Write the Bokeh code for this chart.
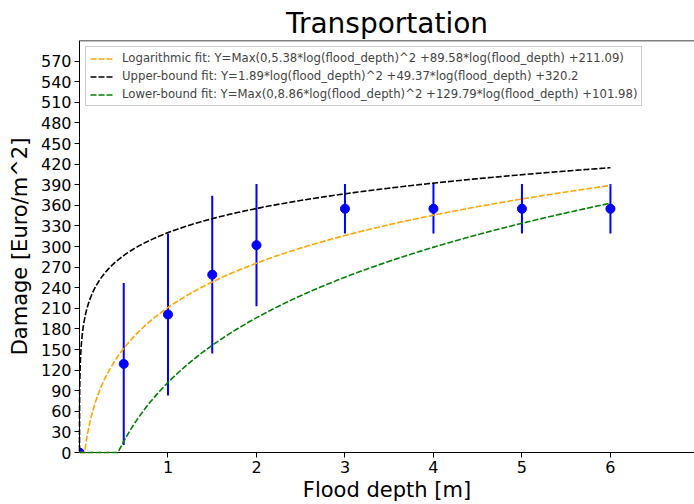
import numpy as np
from bokeh.plotting import figure
from bokeh.models import Legend, LegendItem, FixedTicker, ColumnDataSource, Span
from bokeh.embed import file_html
from bokeh.resources import INLINE

# ---- data ----
depths = [0.0, 0.5, 1.0, 1.5, 2.0, 3.0, 4.0, 5.0, 6.0]
damage = [0.0, 129.0, 201.0, 259.0, 302.0, 355.0, 355.0, 355.0, 355.0]
err = [0.0, 118.0, 118.0, 115.0, 89.0, 36.0, 36.0, 36.0, 36.0]

log_fit = [5.38, 89.58, 211.09]      # a*ln(x)^2 + b*ln(x) + c, clipped at 0
upper_fit = [1.89, 49.37, 320.2]     # not clipped
lower_fit = [8.86, 129.79, 101.98]   # clipped at 0

log_label = "Logarithmic fit: Y=Max(0,5.38*log(flood_depth)^2 +89.58*log(flood_depth) +211.09)"
upper_label = "Upper-bound fit: Y=1.89*log(flood_depth)^2 +49.37*log(flood_depth) +320.2"
lower_label = "Lower-bound fit: Y=Max(0,8.86*log(flood_depth)^2 +129.79*log(flood_depth) +101.98)"

x_ticks = [1, 2, 3, 4, 5, 6]
y_ticks = list(range(0, 571, 30))

title_text = "Transportation"
x_label = "Flood depth [m]"
y_label = "Damage [Euro/m^2]"

FONT = "DejaVu Sans"

xs = np.concatenate([np.geomspace(1e-5, 0.1, 300), np.linspace(0.1, 6.0, 400)[1:]])
L = np.log(xs)


def curve(coef, clip):
    y = coef[0] * L ** 2 + coef[1] * L + coef[2]
    return np.maximum(0, y) if clip else y


p = figure(width=694, height=504, output_backend="svg", toolbar_location=None,
           x_range=(0, 6.95), y_range=(0, 600), title=title_text,
           min_border_left=79, min_border_right=0, min_border_top=40, min_border_bottom=51)
p.xgrid.visible = False
p.ygrid.visible = False
p.outline_line_color = None
p.background_fill_color = "white"
p.border_fill_color = "white"

p.title.text_font = FONT
p.title.text_font_size = "28px"
p.title.text_font_style = "normal"
p.title.align = "center"
p.title.standoff = 2
p.title.text_color = "black"
p.title.text_line_height = 0.9

top_spine = Span(location=600, dimension="width", line_color="black", line_width=1.5)
p.add_layout(top_spine)

dash = "6 2"
r_log = p.line(xs, curve(log_fit, True), line_color="orange", line_width=1.6, line_dash=dash)
r_up = p.line(xs, curve(upper_fit, False), line_color="black", line_width=1.6, line_dash=dash)
r_low = p.line(xs, curve(lower_fit, True), line_color="green", line_width=1.6, line_dash=dash)
for r in (r_log, r_up, r_low):
    r.level = "annotation"

src = ColumnDataSource(dict(x=depths, y=damage,
                            lo=[d - e for d, e in zip(damage, err)],
                            hi=[d + e for d, e in zip(damage, err)]))
p.segment(x0="x", y0="lo", x1="x", y1="hi", source=src, line_color="blue", line_width=2)
p.scatter(x="x", y="y", source=src, size=9, color="blue")

legend = Legend(items=[LegendItem(label=log_label, renderers=[r_log]),
                       LegendItem(label=upper_label, renderers=[r_up]),
                       LegendItem(label=lower_label, renderers=[r_low])],
                location="top_left")
legend.label_text_font = FONT
legend.label_text_font_size = "11.7px"
legend.label_height = 13
legend.glyph_height = 13
legend.glyph_width = 23
legend.spacing = 4
legend.padding = 4
legend.margin = 6
legend.label_standoff = 9
legend.border_line_color = "#cccccc"
legend.border_line_alpha = 1
legend.background_fill_alpha = 0.8
p.add_layout(legend)

for ax in (p.xaxis[0], p.yaxis[0]):
    ax.major_label_text_font = FONT
    ax.major_label_text_font_size = "16px"
    ax.major_label_text_color = "black"
    ax.major_label_text_line_height = 0.9
    ax.axis_label_text_font = FONT
    ax.axis_label_text_font_size = "21px"
    ax.axis_label_text_font_style = "normal"
    ax.axis_label_text_color = "black"
    ax.axis_label_text_line_height = 0.9
    ax.axis_line_color = "black"
    ax.major_tick_line_color = "black"
    ax.major_tick_out = 5
    ax.major_tick_in = 0
    ax.minor_tick_line_color = None
    ax.major_label_standoff = 3

p.xaxis.ticker = FixedTicker(ticks=x_ticks)
p.yaxis.ticker = FixedTicker(ticks=y_ticks)
p.xaxis.axis_label = x_label
p.yaxis.axis_label = y_label
p.xaxis.axis_label_standoff = 2
p.yaxis.axis_label_standoff = 6

open("out.html", "w").write(file_html(p, INLINE))
